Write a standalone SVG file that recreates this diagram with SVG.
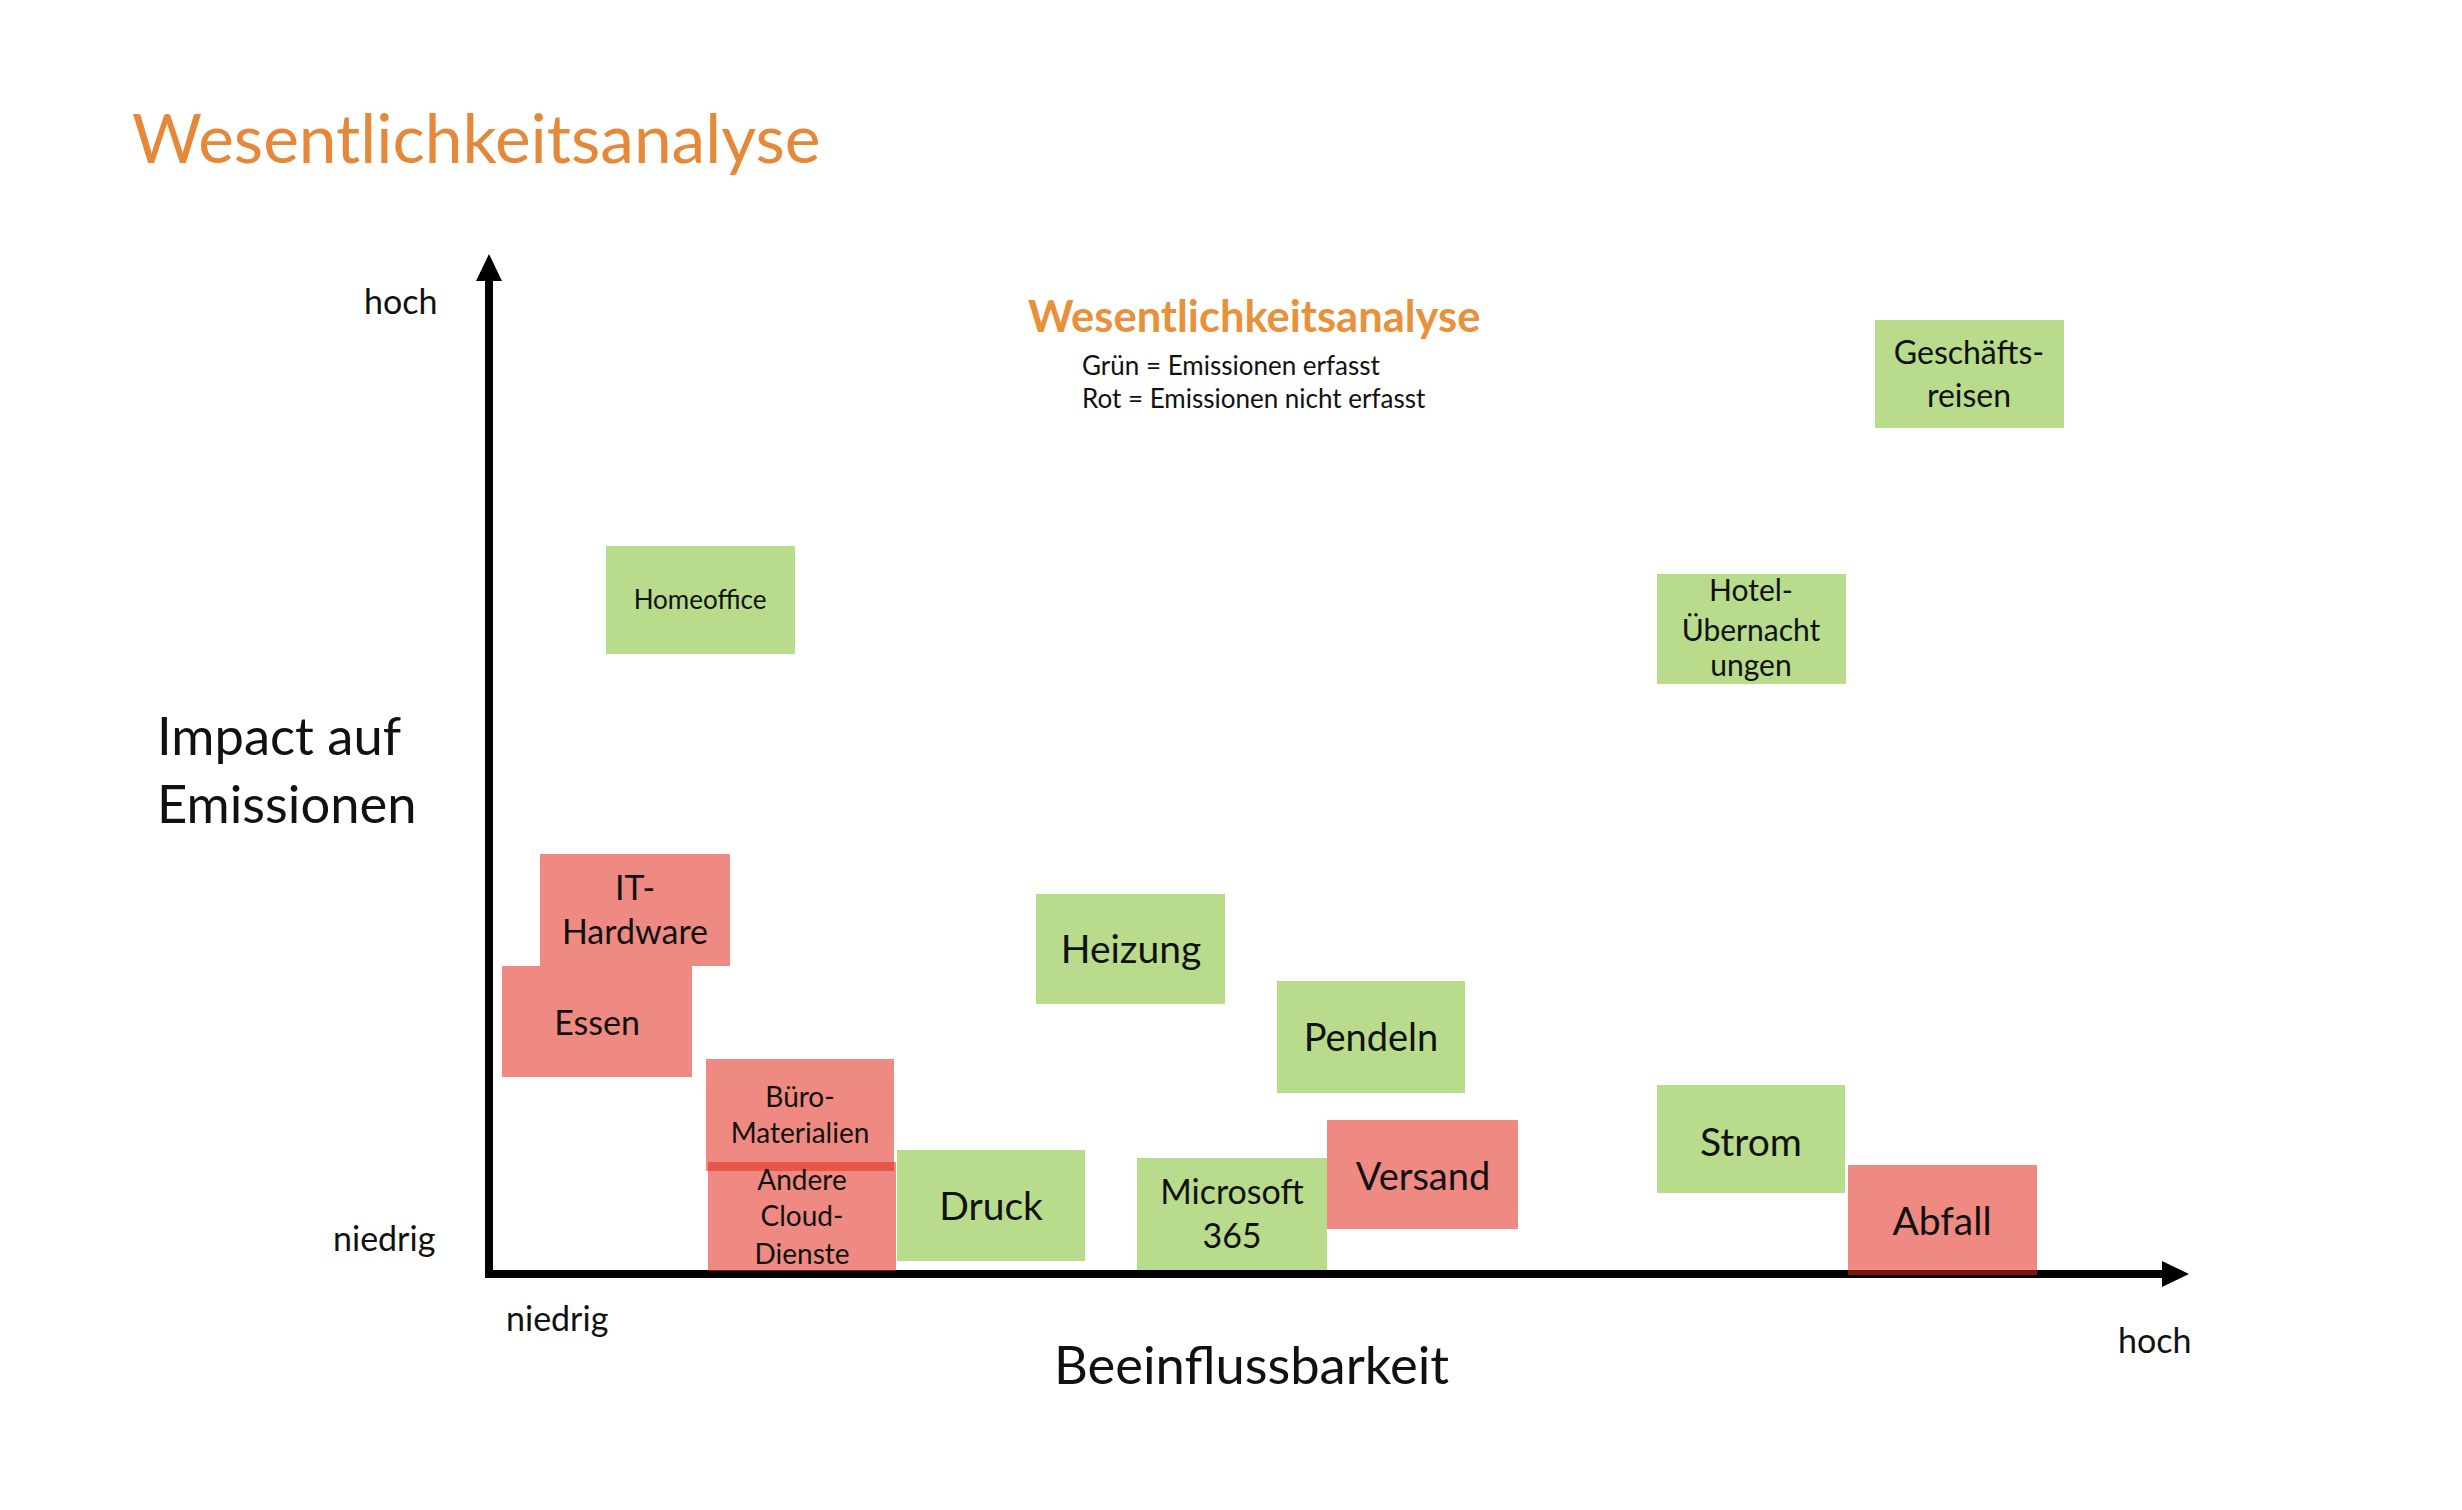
<svg xmlns="http://www.w3.org/2000/svg" width="2462" height="1510" viewBox="0 0 2462 1510">
<style>
text{font-family:Lato,"Open Sans","Liberation Sans",sans-serif;fill:#111}
.c{text-anchor:middle}
.g{fill:#B8DB8C}
.r{fill:#E22A1C;fill-opacity:0.55}
.ax{stroke:#000;stroke-width:8;fill:none}
.ah{fill:#000}
.lbl{font-size:34px}
.big{font-size:52.5px}
</style>
<rect width="2462" height="1510" fill="#fff"/>
<text x="132" y="163" style="font-size:67.6px;fill:#E5883A">Wesentlichkeitsanalyse</text>
<g id="axes">
<line class="ax" x1="489" y1="1278" x2="489" y2="276"/>
<polygon class="ah" points="489,254 476,281 502,281"/>
<line class="ax" x1="485" y1="1274" x2="2164" y2="1274"/>
<polygon class="ah" points="2189,1274 2162,1261 2162,1287"/>
</g>
<g id="axis-labels">
<text class="lbl" x="364" y="314">hoch</text>
<text class="lbl" x="333" y="1251">niedrig</text>
<text class="lbl" x="506" y="1331">niedrig</text>
<text class="lbl" x="2118" y="1353">hoch</text>
<text class="big" x="157" y="755">Impact auf</text>
<text class="big" x="157" y="823">Emissionen</text>
<text class="big" x="1054" y="1384">Beeinflussbarkeit</text>
</g>
<g id="legend">
<text x="1028" y="332" style="font-size:43.5px;font-weight:bold;fill:#E8903A">Wesentlichkeitsanalyse</text>
<text x="1082" y="375" style="font-size:26px">Grün = Emissionen erfasst</text>
<text x="1082" y="408" style="font-size:26px">Rot = Emissionen nicht erfasst</text>
</g>
<g id="geschaeftsreisen">
<rect class="g" x="1875" y="320" width="189" height="108"/>
<text class="c" x="1969" y="364" style="font-size:32px">Geschäfts-</text>
<text class="c" x="1969" y="407" style="font-size:32px">reisen</text>
</g>
<g id="homeoffice">
<rect class="g" x="606" y="546" width="189" height="108"/>
<text class="c" x="700" y="609" style="font-size:26px">Homeoffice</text>
</g>
<g id="hotel">
<rect class="g" x="1657" y="574" width="189" height="110"/>
<text class="c" x="1751" y="601" style="font-size:30px">Hotel-</text>
<text class="c" x="1751" y="641" style="font-size:30px">Übernacht</text>
<text class="c" x="1751" y="676" style="font-size:30px">ungen</text>
</g>
<g id="it-hardware">
<rect class="r" x="540" y="854" width="190" height="112"/>
<text class="c" x="635" y="900" style="font-size:34px">IT-</text>
<text class="c" x="635" y="944" style="font-size:34px">Hardware</text>
</g>
<g id="essen">
<rect class="r" x="502" y="966" width="190" height="111"/>
<text class="c" x="597" y="1035" style="font-size:34px">Essen</text>
</g>
<g id="heizung">
<rect class="g" x="1036" y="894" width="189" height="110"/>
<text class="c" x="1131" y="963" style="font-size:39px">Heizung</text>
</g>
<g id="pendeln">
<rect class="g" x="1277" y="981" width="188" height="112"/>
<text class="c" x="1371" y="1051" style="font-size:38px">Pendeln</text>
</g>
<g id="bueromaterialien">
<rect class="r" x="706" y="1059" width="188" height="112"/>
<text class="c" x="800" y="1107" style="font-size:28px">Büro-</text>
<text class="c" x="800" y="1143" style="font-size:28px">Materialien</text>
</g>
<g id="cloud-dienste">
<rect class="r" x="708" y="1162" width="188" height="109"/>
<text class="c" x="802" y="1190" style="font-size:28px">Andere</text>
<text class="c" x="802" y="1226" style="font-size:28px">Cloud-</text>
<text class="c" x="802" y="1264" style="font-size:28px">Dienste</text>
</g>
<g id="druck">
<rect class="g" x="897" y="1150" width="188" height="111"/>
<text class="c" x="991" y="1220" style="font-size:39px">Druck</text>
</g>
<g id="microsoft365">
<rect class="g" x="1137" y="1158" width="190" height="112"/>
<text class="c" x="1232" y="1204" style="font-size:34px">Microsoft</text>
<text class="c" x="1232" y="1248" style="font-size:34px">365</text>
</g>
<g id="versand">
<rect class="r" x="1327" y="1120" width="191" height="109"/>
<text class="c" x="1423" y="1190" style="font-size:38px">Versand</text>
</g>
<g id="strom">
<rect class="g" x="1657" y="1085" width="188" height="108"/>
<text class="c" x="1751" y="1156" style="font-size:39px">Strom</text>
</g>
<g id="abfall">
<rect class="r" x="1848" y="1165" width="189" height="110"/>
<text class="c" x="1942" y="1235" style="font-size:39px">Abfall</text>
</g>
</svg>
